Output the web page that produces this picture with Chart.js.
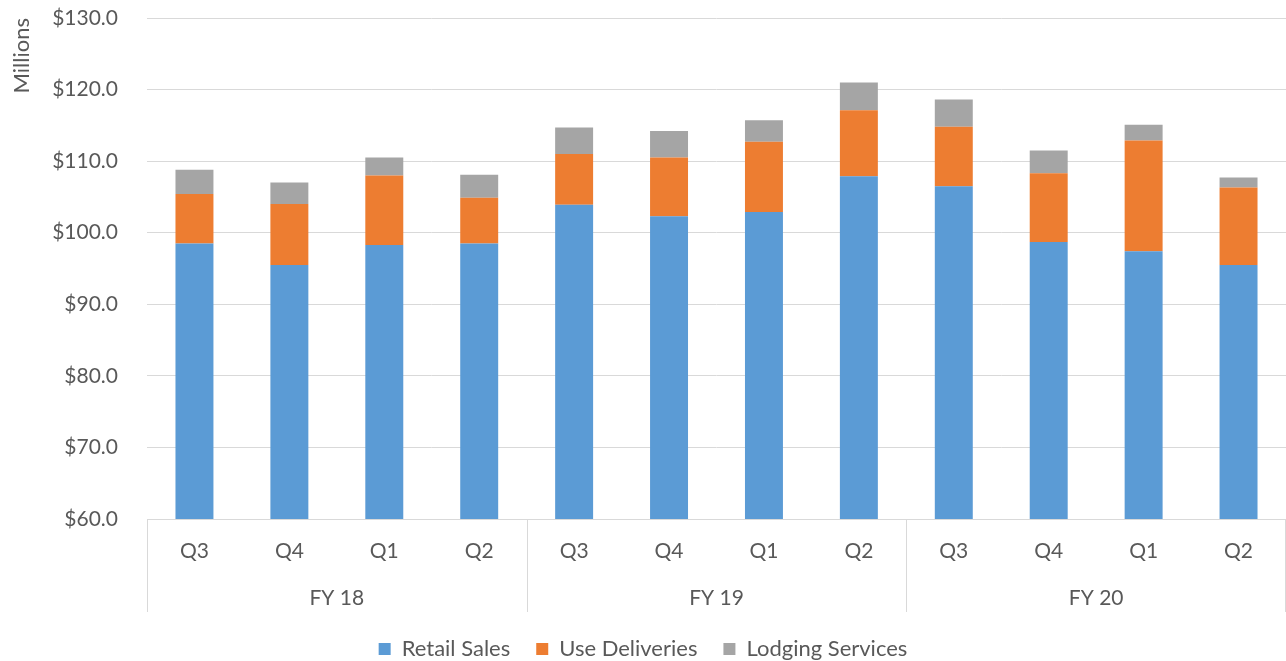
<!DOCTYPE html>
<html>
<head>
<meta charset="utf-8">
<script src="https://cdn.jsdelivr.net/npm/chart.js@4.4.0/dist/chart.umd.min.js"></script>
<style>
    html, body { margin: 0; padding: 0; background: #fff; overflow: hidden; }
    #wrap { width: 1286px; height: 661px; }
</style>
</head>
<body>
<div id="wrap"><canvas id="myChart"></canvas></div>
<script>
const quarters = ['Q3', 'Q4', 'Q1', 'Q2', 'Q3', 'Q4', 'Q1', 'Q2', 'Q3', 'Q4', 'Q1', 'Q2'];
const fiscalYears = ['FY 18', 'FY 19', 'FY 20'];
const retailSales = [98.5, 95.5, 98.3, 98.5, 103.9, 102.3, 102.9, 107.9, 106.5, 98.7, 97.4, 95.5];
const useDeliveries = [6.9, 8.5, 9.7, 6.4, 7.1, 8.2, 9.8, 9.2, 8.3, 9.6, 15.5, 10.8];
const lodgingServices = [3.4, 3.0, 2.5, 3.2, 3.7, 3.7, 3.0, 3.9, 3.8, 3.2, 2.2, 1.4];
const yMin = 60, yMax = 130, yStep = 10;

const txt = '#595959', grid = '#d9d9d9', font = 'Lato';

// vertical separators between fiscal years, under the plot
const groupLines = {
    id: 'groupLines',
    afterDraw(chart) {
        const x = chart.scales.x, fy = chart.scales.fy, c = chart.ctx;
        const step = x.width / quarters.length;
        c.save();
        c.strokeStyle = grid;
        c.lineWidth = 1;
        for (let i = 0; i <= quarters.length; i += 4) {
            let px = Math.round(x.left + i * step) + 0.5;
            if (px > x.right) px = x.right - 0.5;
            c.beginPath();
            c.moveTo(px, x.top);
            c.lineTo(px, fy.bottom);
            c.stroke();
        }
        c.restore();
    }
};

new Chart(document.getElementById('myChart'), {
    type: 'bar',
    data: {
        labels: quarters,
        datasets: [
            {label: 'Retail Sales', data: retailSales, backgroundColor: '#5b9bd5'},
            {label: 'Use Deliveries', data: useDeliveries, backgroundColor: '#ed7d31'},
            {label: 'Lodging Services', data: lodgingServices, backgroundColor: '#a5a5a5'}
        ]
    },
    options: {
        responsive: true,
        maintainAspectRatio: false,
        animation: false,
        datasets: {bar: {barPercentage: 1, categoryPercentage: 0.4, borderWidth: 0}},
        layout: {padding: {top: 0, left: 0, right: 0, bottom: -9}},
        plugins: {
            tooltip: {enabled: false},
            legend: {
                position: 'bottom',
                labels: {font: {family: font, size: 22}, color: txt, boxWidth: 12, boxHeight: 12, padding: 26}
            }
        },
        scales: {
            x: {
                stacked: true,
                weight: 0,
                grid: {display: false, drawTicks: false, tickLength: 0},
                border: {display: true, color: grid},
                ticks: {font: {family: font, size: 21}, color: txt, padding: 20, maxRotation: 0},
                afterFit: s => { s.height = 56; }
            },
            fy: {
                type: 'category',
                position: 'bottom',
                labels: fiscalYears,
                offset: true,
                weight: 1,
                grid: {display: false, drawTicks: false, tickLength: 0},
                border: {display: false},
                ticks: {font: {family: font, size: 21}, color: txt, padding: 11, maxRotation: 0},
                afterFit: s => { s.height = 37; }
            },
            y: {
                stacked: true,
                min: yMin, max: yMax,
                grid: {color: grid, lineWidth: 1, drawTicks: false, tickLength: 0},
                border: {display: false},
                ticks: {
                    stepSize: yStep,
                    font: {family: font, size: 21}, color: txt, padding: 29,
                    callback: v => '$' + v.toFixed(1)
                },
                title: {display: true, text: 'Millions', align: 'end', color: txt, font: {family: font, size: 22}, padding: {top: 9, bottom: 0}},
                afterFit: s => { s.width = 147; s.paddingTop = 18; s.paddingBottom = 0; }
            }
        }
    },
    plugins: [groupLines]
});
</script>
</body>
</html>
